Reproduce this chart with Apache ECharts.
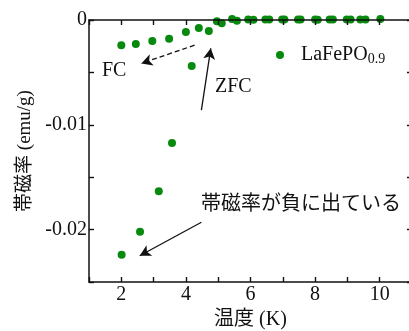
<!DOCTYPE html>
<html>
<head>
<meta charset="utf-8">
<script src="https://cdn.jsdelivr.net/npm/echarts@6/dist/echarts.min.js"></script>
<style>
html,body{margin:0;padding:0;background:#fff;}
#chart{width:409px;height:331px;}
</style>
</head>
<body>
<div id="chart"></div>
<script>
// ---- data ----
var fcTemps  = [2.0, 2.45, 2.96, 3.48, 4.0, 4.4, 4.96, 5.43, 5.93, 6.46, 6.98, 7.47, 8.0, 8.45, 8.98, 9.4, 10.02];
var fcValues = [-0.0024, -0.0023, -0.0020, -0.0018, -0.00115, -0.00077, -0.00013, 0.0001, 0.00005, 0.00005, 0.00005, 0.00005, 0.00005, 0.00005, 0.00005, 0.00005, 0.0001];
var zfcTemps  = [2.01, 2.58, 3.16, 3.57, 4.18, 4.71, 5.11, 5.58, 6.09, 6.58, 7.05, 7.55, 8.08, 8.55, 9.1, 9.56];
var zfcValues = [-0.0224, -0.0202, -0.01635, -0.01173, -0.0044, -0.00106, -0.0003, -0.00007, 0.00002, 0.00005, 0.00005, 0.00005, 0.00002, 0.00005, 0.00005, 0.00005];

var xLabelStep = 2;      // labels at 2, 4, 6, 8, 10
var xTickStep = 1;
var yLabelStep = 0.01;   // labels at 0, -0.01, -0.02
var yTickStep = 0.005;

var seriesName = 'LaFePO0.9';
// annotation arrows in data coordinates: [fromT, fromV, toT, toV]
var arrowFC   = [4.27, -0.0024, 2.62, -0.00414];
var arrowZFC  = [4.48, -0.0086, 4.77, -0.0027];
var arrowNeg  = [4.48, -0.0193, 2.57, -0.0225];

var labelFC  = 'FC';
var labelZFC = 'ZFC';
var labelNeg = '帯磁率が負に出ている';

// ---- chart ----
var X_MIN = 1, X_MAX = 11, Y_MIN = -0.025, Y_MAX = 0;
var SERIF = 'Liberation Serif';
var MIXED = 'Liberation Serif, Noto Sans CJK JP';
var AX = '#111';
var GREEN = '#078a0e';

function pairs(xs, ys) { return xs.map(function (x, i) { return [x, ys[i]]; }); }
function onStep(v, step) { var r = v / step; return Math.abs(r - Math.round(r)) < 1e-6; }

function xAx(pos, withLabel, extra) {
  return Object.assign({
    type: 'value', min: X_MIN, max: X_MAX, interval: xTickStep, position: pos, z: 20,
    splitLine: {show: false},
    axisLine: {show: true, onZero: false, lineStyle: {color: AX, width: 1.5}},
    axisTick: {show: true, inside: true, length: 5, lineStyle: {color: AX, width: 1.4}},
    axisLabel: withLabel ? {
      show: true, fontFamily: SERIF, fontSize: 20, color: '#111', margin: 3,
      formatter: function (v) { return onStep(v, xLabelStep) ? String(v) : ''; }
    } : {show: false}
  }, extra || {});
}
function yAx(pos, withLabel, extra) {
  return Object.assign({
    type: 'value', min: Y_MIN, max: Y_MAX, interval: yTickStep, position: pos, z: 20,
    splitLine: {show: false},
    axisLine: {show: true, onZero: false, lineStyle: {color: AX, width: 1.5}},
    axisTick: {show: true, inside: true, length: 5, lineStyle: {color: AX, width: 1.4}},
    axisLabel: withLabel ? {
      show: true, fontFamily: SERIF, fontSize: 20, color: '#111', margin: 2,
      formatter: function (v) { return onStep(v, yLabelStep) ? String(+v.toFixed(3)) : ''; }
    } : {show: false}
  }, extra || {});
}

function arrow(a, dashed) {
  return [
    {coord: [a[0], a[1]], symbol: 'none', lineStyle: {color: '#111', width: 1.3, type: dashed ? [5, 3] : 'solid'}},
    {coord: [a[2], a[3]], symbol: 'arrow'}
  ];
}

var chart = echarts.init(document.getElementById('chart'), null, {renderer: 'canvas'});
chart.setOption({
  animation: false,
  grid: {left: 89, right: -3, top: 20, bottom: 49, outerBoundsMode: 'none', containLabel: false, show: false},
  legend: {
    left: 271, top: 40,
    itemWidth: 8, itemHeight: 8,
    icon: 'circle',
    data: [seriesName],
    formatter: function () { return '{a|LaFePO}{b|0.9}'; },
    textStyle: {
      fontFamily: SERIF, color: '#111',
      rich: {
        a: {fontFamily: SERIF, fontSize: 20, color: '#111', padding: [0, 0, 0, 12]},
        b: {fontFamily: SERIF, fontSize: 14, color: '#111', padding: [8, 0, 0, 0]}
      }
    }
  },
  xAxis: [
    xAx('bottom', true, {
      name: '温度 (K)', nameLocation: 'middle', nameGap: 26,
      nameTextStyle: {fontFamily: MIXED, fontSize: 20, color: '#111'}
    }),
    xAx('top', false)
  ],
  yAxis: [
    yAx('left', true, {
      name: '帯磁率 (emu/g)', nameLocation: 'middle', nameGap: 52, nameRotate: 90,
      nameTextStyle: {fontFamily: MIXED, fontSize: 19, color: '#111'}
    }),
    yAx('right', false)
  ],
  series: [
    {
      name: seriesName, type: 'scatter', clip: false, z: 10,
      symbol: 'circle', symbolSize: 8,
      itemStyle: {color: GREEN, opacity: 1},
      data: pairs(zfcTemps, zfcValues),
      markLine: {
        silent: true, symbolSize: [9, 11],
        label: {show: false},
        emphasis: {disabled: true},
        data: [arrow(arrowFC, true), arrow(arrowZFC, false), arrow(arrowNeg, false)]
      }
    },
    {
      name: seriesName, type: 'scatter', clip: false, z: 10,
      symbol: 'circle', symbolSize: 8,
      itemStyle: {color: GREEN, opacity: 1},
      data: pairs(fcTemps, fcValues)
    }
  ],
  graphic: [
    {type: 'text', left: 102, top: 61, style: {text: labelFC, fontFamily: SERIF, fontSize: 20, fill: '#111'}},
    {type: 'text', left: 215, top: 77, style: {text: labelZFC, fontFamily: SERIF, fontSize: 20, fill: '#111'}},
    {type: 'text', left: 201, top: 195, style: {text: labelNeg, fontFamily: MIXED, fontSize: 20, fill: '#111'}}
  ]
});
</script>
</body>
</html>
